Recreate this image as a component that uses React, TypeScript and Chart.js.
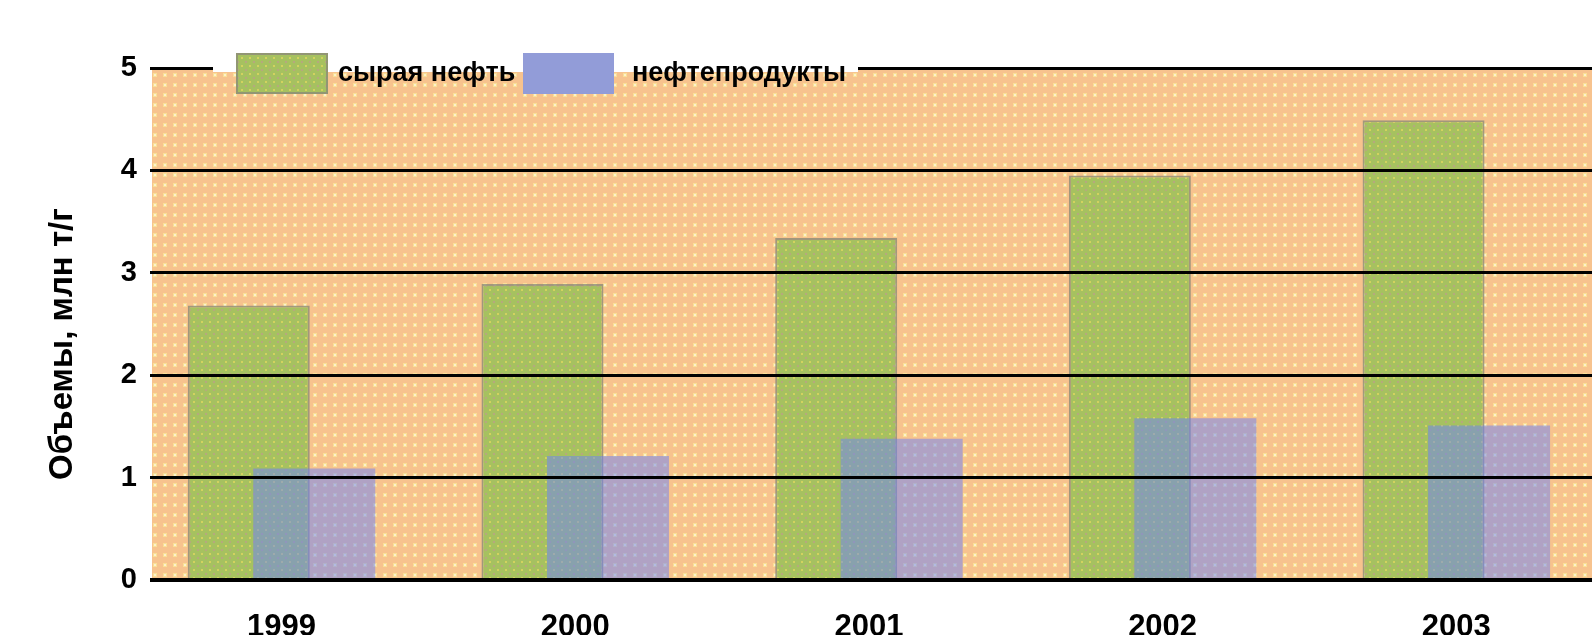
import React, { useEffect, useRef } from 'react';
import { Chart, registerables } from 'chart.js';

Chart.register(...registerables);

// ---- data ----
const years = [1999, 2000, 2001, 2002, 2003];
const crudeOil = [2.68, 2.89, 3.34, 3.95, 4.49];
const petroleumProducts = [1.09, 1.21, 1.38, 1.58, 1.51];
const seriesNames = ['сырая нефть', 'нефтепродукты'];
const yTickValues = [0, 1, 2, 3, 4, 5];
const yTitle = 'Объемы, млн т/г';

const FONT = '"Liberation Sans", Arial, sans-serif';

// axis window (layout only)
const X_MIN = 1998.559;
const X_MAX = 2003.462;
const HALF_SHIFT = 0.1115; // half the offset between the two overlapping bars, in axis units

type Dot = [number, number, number, number, string];

function makePattern(size: number, base: string, dots: Dot[]): CanvasPattern | string {
  const c = document.createElement('canvas');
  c.width = size;
  c.height = size;
  const g = c.getContext('2d');
  if (!g) return base;
  g.fillStyle = base;
  g.fillRect(0, 0, size, size);
  for (const [x, y, w, h, col] of dots) {
    g.fillStyle = col;
    g.fillRect(x, y, w, h);
  }
  const p = g.createPattern(c, 'repeat');
  return p || base;
}

const yearTicks = (s: any) => {
  s.ticks = years.map((v) => ({ value: v }));
};

export default function App() {
  const ref = useRef<HTMLCanvasElement | null>(null);

  useEffect(() => {
    if (!ref.current) return;

    const bgPattern = makePattern(10, 'rgb(247,195,142)', [
      [3, 3, 4, 4, 'rgb(250,224,150)'],
      [4, 4, 2, 2, 'rgb(252,240,205)'],
    ]);
    const greenPattern = makePattern(8, 'rgb(166,193,96)', [
      [1, 1, 2, 2, 'rgb(210,210,95)'],
      [5, 5, 2, 2, 'rgb(182,168,125)'],
    ]);
    const blueFill = 'rgba(105,130,250,0.5)';

    const plotBg = {
      id: 'plotBg',
      beforeDraw(chart: any) {
        const { ctx, chartArea } = chart;
        const { left, top, right, bottom } = chartArea;
        ctx.save();
        ctx.fillStyle = bgPattern;
        ctx.fillRect(left, top, right - left, bottom - top);
        ctx.restore();
      },
    };

    const customLegendAndTitle = {
      id: 'customLegendAndTitle',
      afterDraw(chart: any) {
        const { ctx } = chart;
        ctx.save();
        ctx.fillStyle = '#ffffff';
        ctx.fillRect(213, 60, 645, 12);
        ctx.fillStyle = greenPattern;
        ctx.fillRect(236, 53, 92, 41);
        ctx.strokeStyle = 'rgba(140,140,120,0.8)';
        ctx.lineWidth = 2;
        ctx.strokeRect(237, 54, 90, 39);
        ctx.fillStyle = 'rgb(146,156,216)';
        ctx.fillRect(523, 53, 91, 41);
        ctx.fillStyle = '#000';
        ctx.font = `bold 27px ${FONT}`;
        ctx.textBaseline = 'middle';
        ctx.textAlign = 'left';
        ctx.fillText(seriesNames[0], 338, 74);
        ctx.fillText(seriesNames[1], 632, 74);
        ctx.translate(63, 344);
        ctx.rotate(-Math.PI / 2);
        ctx.textAlign = 'center';
        ctx.font = `bold 33px ${FONT}`;
        ctx.fillText(yTitle, 0, 0);
        ctx.restore();
      },
    };

    const hiddenAxis = (shift: number) => ({
      type: 'linear',
      display: false,
      bounds: 'data',
      offset: false,
      grid: { offset: false },
      min: X_MIN + shift,
      max: X_MAX + shift,
      afterBuildTicks: yearTicks,
    });

    const chart = new Chart(ref.current, {
      type: 'bar',
      data: {
        datasets: [
          {
            label: seriesNames[0],
            data: years.map((yr, i) => ({ x: yr, y: crudeOil[i] })),
            xAxisID: 'xg',
            order: 1,
            grouped: false,
            backgroundColor: greenPattern as any,
            borderColor: 'rgba(140,140,120,0.8)',
            borderWidth: 2,
            categoryPercentage: 1,
            barPercentage: 0.4154,
          },
          {
            label: seriesNames[1],
            data: years.map((yr, i) => ({ x: yr, y: petroleumProducts[i] })),
            xAxisID: 'xb',
            order: 0,
            grouped: false,
            backgroundColor: blueFill,
            borderWidth: 0,
            categoryPercentage: 1,
            barPercentage: 0.4154,
          },
        ],
      },
      options: {
        responsive: false,
        animation: false,
        devicePixelRatio: 1,
        layout: { padding: { top: 68, left: 0, right: 0, bottom: 0 } },
        plugins: {
          legend: { display: false },
          title: { display: false },
          tooltip: { enabled: false },
        },
        scales: {
          x: {
            type: 'linear',
            bounds: 'data',
            offset: false,
            min: X_MIN,
            max: X_MAX,
            grid: { display: false, offset: false },
            border: { display: false },
            afterBuildTicks: yearTicks,
            afterFit: (s: any) => {
              s.height = 55;
            },
            ticks: {
              autoSkip: false,
              maxRotation: 0,
              padding: 21,
              color: '#000',
              font: { family: FONT, size: 31, weight: 'bold' },
              callback: (v: any) => String(v),
            },
          },
          xg: hiddenAxis(HALF_SHIFT),
          xb: hiddenAxis(-HALF_SHIFT),
          y: {
            min: 0,
            max: 5,
            afterBuildTicks: (s: any) => {
              s.ticks = yTickValues.map((v) => ({ value: v }));
            },
            afterFit: (s: any) => {
              s.width = 152;
            },
            border: { display: false },
            grid: {
              z: 1,
              color: '#000',
              lineWidth: (c: any) => (c.tick && c.tick.value === 0 ? 4 : 3),
              drawTicks: true,
              tickLength: 2,
            },
            ticks: {
              color: '#000',
              padding: 13,
              font: { family: FONT, size: 29, weight: 'bold' },
              callback: (v: any) => String(v),
            },
          },
        },
      } as any,
      plugins: [plotBg, customLegendAndTitle],
    });

    return () => chart.destroy();
  }, []);

  return (
    <div style={{ position: 'absolute', left: 0, top: 0, width: 1592, height: 635, background: '#fff' }}>
      <canvas ref={ref} width={1592} height={635} style={{ display: 'block' }} />
    </div>
  );
}
